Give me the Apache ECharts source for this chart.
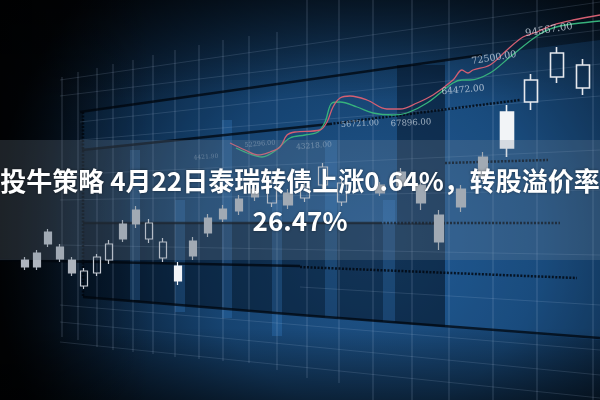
<!DOCTYPE html>
<html>
<head>
<meta charset="utf-8">
<script src="https://cdn.jsdelivr.net/npm/echarts@6/dist/echarts.min.js"></script>
<style>html,body{margin:0;padding:0;background:#02060b;}#c{width:600px;height:400px;}</style>
</head>
<body>
<div id="c"></div>
<script>
// ---- data (value units, x = session index scale, y = price scale) ----
const titleLine1 = '投牛策略 4月22日泰瑞转债上涨0.64%，转股溢价率';
const titleLine2 = '26.47%';

// [session, open, close, lowest, highest]
const candlesFar = [
  [25,140,133,130,143],[37,147,133,130,150],[48,168,156,153,171],[60,153,141,138,156],
  [72,140,127,124,143],[84,114,129,111,132],[97,127,143,124,146],[109,140,156,136,160],
  [123,176,161,158,180],[136,190,176,172,194],[149,161,177,157,181],[163,142,158,138,162],
  [178,119,134,115,138],[193,159,144,140,163],[208,182,167,163,186],[223,191,181,178,195],
  [239,201,189,185,205],[255,211,203,199,215]
];
const candlesMid = [
  [272,197,217,193,221],[288,207,195,191,211],[305,202,213,198,217],[323,215,233,211,237],
  [342,198,217,194,221],[380,215,207,204,218],[401,228,214,210,232],[421,215,197,190,219],
  [439,185,158,150,190],[461,211,193,188,215],[483,243,223,218,248]
];
const candlesNear = [
  [507,252,288,243,295],[531,298,320,290,326],[557,323,347,317,353],[583,312,335,305,341]
];
const highlighted = [178, 507]; // sessions drawn as bright candles

const maFastX = [230,245,258,270,280,287,295,320,327,333,340,350,367,387,400,417,433,453,462,468,473,490,507,523,537,553,573,600];
const maFastY = [257,250,245,248,253,265,268,270,278,293,302,304,300,291,291,297,305,320,330,327,330,335,350,363,368,375,380,385];
const maSlowX = [236,250,262,275,290,305,318,325,332,340,357,373,393,407,427,453,462,470,490,510,540,560,590,600];
const maSlowY = [252,246,243,249,262,265,268,278,297,298,293,287,285,287,297,317,320,320,327,343,366,374,378,379];

const priceText = ['4421.90','52296.00','43218.00','56721.00','67896.00','64472.00','72500.00','94567.00'];
const priceX = [206,260,314,360,411,463,494,549];
const priceY = [243,256,254,276,277,310,342,370];

// ---- presentation ----
const labelSize = [6,6.5,7.5,8,8.5,9,9.5,10];
const labelRot = [4,5,4,3,3,5,9,9];
const labelAlpha = [0.45,0.5,0.55,0.85,0.85,0.9,0.9,0.95];

function candleItems(arr){
  return arr.map(d => highlighted.indexOf(d[0]) >= 0
    ? {value:d, itemStyle:{color:'#f2f4f7', borderColor:'#f2f4f7', color0:'#f2f4f7', borderColor0:'#f2f4f7'}}
    : d);
}
const candleStyle = {color:'rgba(0,0,0,0)', borderColor:'#c7ccd4', color0:'#aeb4bd', borderColor0:'#aeb4bd', borderWidth:1.2};

const chart = echarts.init(document.getElementById('c'));
const G = echarts.graphic;
const deco = [];
// background
deco.push({type:'rect', z:-30, shape:{x:0,y:0,width:600,height:400}, style:{fill:new G.RadialGradient(0.62,0.6,0.95,[
  {offset:0,color:'#215890'},{offset:0.45,color:'#164370'},{offset:0.75,color:'#0a2139'},{offset:1,color:'#02060b'}])}});
deco.push({type:'rect', z:-29, shape:{x:0,y:0,width:600,height:400}, style:{fill:new G.LinearGradient(0,0,0,1,[
  {offset:0,color:'rgba(0,0,0,0.55)'},{offset:0.25,color:'rgba(0,0,0,0)'},{offset:0.82,color:'rgba(0,0,0,0)'},{offset:1,color:'rgba(0,0,0,0.5)'}])}});
deco.push({type:'rect', z:-29, shape:{x:0,y:0,width:600,height:400}, style:{fill:new G.LinearGradient(0,0,1,0,[
  {offset:0,color:'rgba(0,0,0,0.7)'},{offset:0.12,color:'rgba(0,0,0,0.25)'},{offset:0.25,color:'rgba(0,0,0,0)'}])}});
// lighter right panel and dark panels
deco.push({type:'polygon', z:-28, shape:{points:[[445,60],[600,40],[600,340],[445,327]]}, style:{fill:'rgba(40,110,180,0.2)'}});
deco.push({type:'polygon', z:-27, shape:{points:[[83,223],[445,223],[445,327],[300,315],[83,297]]}, style:{fill:'rgba(0,8,20,0.45)'}});
deco.push({type:'rect', z:-27, shape:{x:397,y:65,width:48,height:160}, style:{fill:'rgba(0,8,20,0.4)'}});
deco.push({type:'polygon', z:-27, shape:{points:[[83,112],[300,80],[300,128],[83,150]]}, style:{fill:'rgba(20,70,120,0.18)'}});
// light columns
[[130,10,150,300],[175,10,200,312],[222,10,120,318],[272,10,200,336],[325,12,140,318],[383,12,200,322]].forEach(c=>{
  deco.push({type:'rect', z:-26, shape:{x:c[0],y:c[2],width:c[1],height:c[3]-c[2]}, style:{fill:'rgba(70,150,230,0.22)'}});
});
// perspective grid: vertical
[[62,77,337],[78,72,340],[97,68,347],[113,64,350],[133,60,352],[153,55,354],[175,50,357],[199,45,359],[223,40,361],[249,36,363],[277,32,370],[307,0,378],[339,0,383],[373,0,400],[412,0,400],[449,0,400],[493,0,400],[537,0,400],[593,0,400]].forEach(v=>{
  deco.push({type:'line', z:-25, shape:{x1:v[0],y1:v[1],x2:v[0],y2:v[2]}, style:{stroke:'rgba(190,215,240,0.22)', lineWidth:1}});
});
// perspective grid: slanted
[[60,80,600,2],[60,96,600,30],[80,122,600,64],[80,140,600,96],[60,175,600,150],[60,200,600,190],[60,245,600,255],[60,305,600,350],[60,322,600,375],[60,342,600,398],[300,287,600,305]].forEach(h=>{
  deco.push({type:'line', z:-25, shape:{x1:h[0],y1:h[1],x2:h[2],y2:h[3]}, style:{stroke:'rgba(190,215,240,0.14)', lineWidth:1}});
});
// dark structural lines
[[[80,112],[482,55]],[[82,150],[330,124]],[[83,223],[380,223]],[[0,260],[300,266]],[[83,297],[300,315],[600,338]]].forEach(p=>{
  deco.push({type:'polyline', z:-24, shape:{points:p}, style:{stroke:'rgba(0,5,12,0.75)', lineWidth:2.5}});
});
[[[330,124],[520,100]],[[380,223],[560,223]],[[445,163],[548,160]],[[300,267],[577,278]],[[83,112],[83,297]]].forEach(p=>{
  deco.push({type:'polyline', z:-24, shape:{points:p}, style:{stroke:'rgba(0,5,12,0.8)', lineWidth:2.5, lineDash:[2,1.5]}});
});
// text band
deco.push({type:'rect', z:5, shape:{x:0,y:140,width:600,height:120}, style:{fill:'rgba(120,136,155,0.24)'}});

const option = {
  backgroundColor:'#02060b',
  animation:false,
  title:{
    text: titleLine1 + '\n' + titleLine2,
    left:'center', top:161, padding:0, z:8,
    textStyle:{color:'#ffffff', fontFamily:'Noto Sans CJK SC', fontWeight:'bold', fontSize:26, lineHeight:40,
      textShadowColor:'rgba(0,0,0,0.45)', textShadowBlur:3}
  },
  graphic:{elements:deco},
  grid:{left:0,right:0,top:0,bottom:0},
  xAxis:{type:'value', min:0, max:600, show:false},
  yAxis:{type:'value', min:0, max:400, show:false},
  series:[
    {type:'candlestick', barWidth:7, data:candleItems(candlesFar), itemStyle:candleStyle, z:3},
    {type:'candlestick', barWidth:10, data:candleItems(candlesMid), itemStyle:candleStyle, z:3},
    {type:'candlestick', barWidth:13, data:candleItems(candlesNear), itemStyle:Object.assign({}, candleStyle, {borderWidth:1.6, borderColor:'#e6e9ee'}), z:3},
    {type:'line', smooth:0.35, symbol:'none', z:4, data:maSlowX.map((x,i)=>[x,maSlowY[i]]),
      lineStyle:{color:'#37b27c', width:1.3}},
    {type:'line', smooth:0.35, symbol:'none', z:4, data:maFastX.map((x,i)=>[x,maFastY[i]]),
      lineStyle:{color:'#d45f72', width:1.3}},
    {type:'scatter', symbolSize:0, z:4, silent:true,
      data:priceText.map((t,i)=>({name:t, value:[priceX[i],priceY[i]],
        label:{fontSize:labelSize[i], rotate:labelRot[i], color:'rgba(215,225,235,'+labelAlpha[i]+')'}})),
      label:{show:true, position:'inside', formatter:p=>p.name, fontFamily:'DejaVu Serif'}}
  ]
};
chart.setOption(option);
</script>
</body>
</html>
